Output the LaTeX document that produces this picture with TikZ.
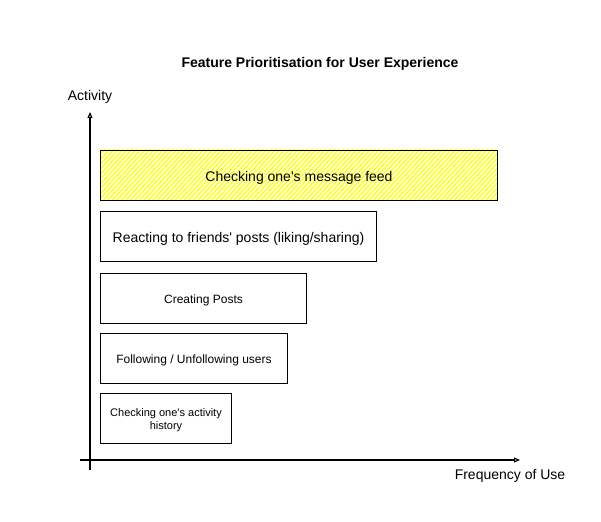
\documentclass[tikz,border=0pt]{standalone}
\usepackage{fontspec}
\setmainfont{Liberation Sans}[Ligatures=TeXOff]
\usetikzlibrary{arrows.meta}
\definecolor{hatchyellow}{HTML}{FFFF22}
\newcommand{\dn}[1]{\raisebox{-2pt}[\height][\depth]{#1}}
\tikzset{
  bar/.style={draw=black, line width=1pt, inner sep=0pt, anchor=north west, align=center},
  axisline/.style={draw=black, line width=1.1pt, -{Triangle[open, length=6pt, width=5pt]}},
  lbl/.style={inner sep=0pt, font=\fontsize{14}{16}\selectfont}
}
\begin{document}
\begin{tikzpicture}[x=1pt, y=-1pt]
\useasboundingbox (0,0) rectangle (601,521);
% title
\node[font=\bfseries\fontsize{14}{16}\selectfont, inner sep=0pt] (title) at (320,63.5) {Feature Prioritisation for User Experience};
% bar 1 (hatched)
\begin{scope}
  \clip (100,150) rectangle (497,200);
  \foreach \i in {0,4.5,...,460} {
    \draw[hatchyellow, line width=1.6pt] (100+\i-55,205) -- (100+\i,145);
  }
\end{scope}
\node[bar, minimum width=397pt, minimum height=50pt, font=\fontsize{14}{16}\selectfont] (b1) at (100,150) {\dn{Checking one's message feed}};
\node[bar, minimum width=276pt, minimum height=50pt, font=\fontsize{14}{16}\selectfont] (b2) at (100,211) {\dn{Reacting to friends' posts (liking/sharing)}};
\node[bar, minimum width=206pt, minimum height=50pt, font=\fontsize{12}{14}\selectfont] (b3) at (100,273) {\dn{Creating Posts}};
\node[bar, minimum width=187pt, minimum height=50pt, font=\fontsize{12}{14}\selectfont] (b4) at (100,333) {\dn{Following / Unfollowing users}};
\node[bar, minimum width=131pt, minimum height=50pt, font=\fontsize{11}{13.5}\selectfont] (b5) at (100,393) {\dn{\begin{tabular}{@{}c@{}}Checking one's activity\\[-0.5pt]history\end{tabular}}};
% axes
\coordinate (ybot) at (90,470);
\coordinate (ytop) at (90,112);
\coordinate (xl) at (80,460);
\coordinate (xr) at (520,460);
\draw[axisline] (ybot) -- (ytop);
\draw[axisline] (xl) -- (xr);
\node[lbl] (ylab) at (90,96.5) {Activity};
\node[lbl] (xlab) at (510,476) {Frequency of Use};
\end{tikzpicture}
\end{document}
